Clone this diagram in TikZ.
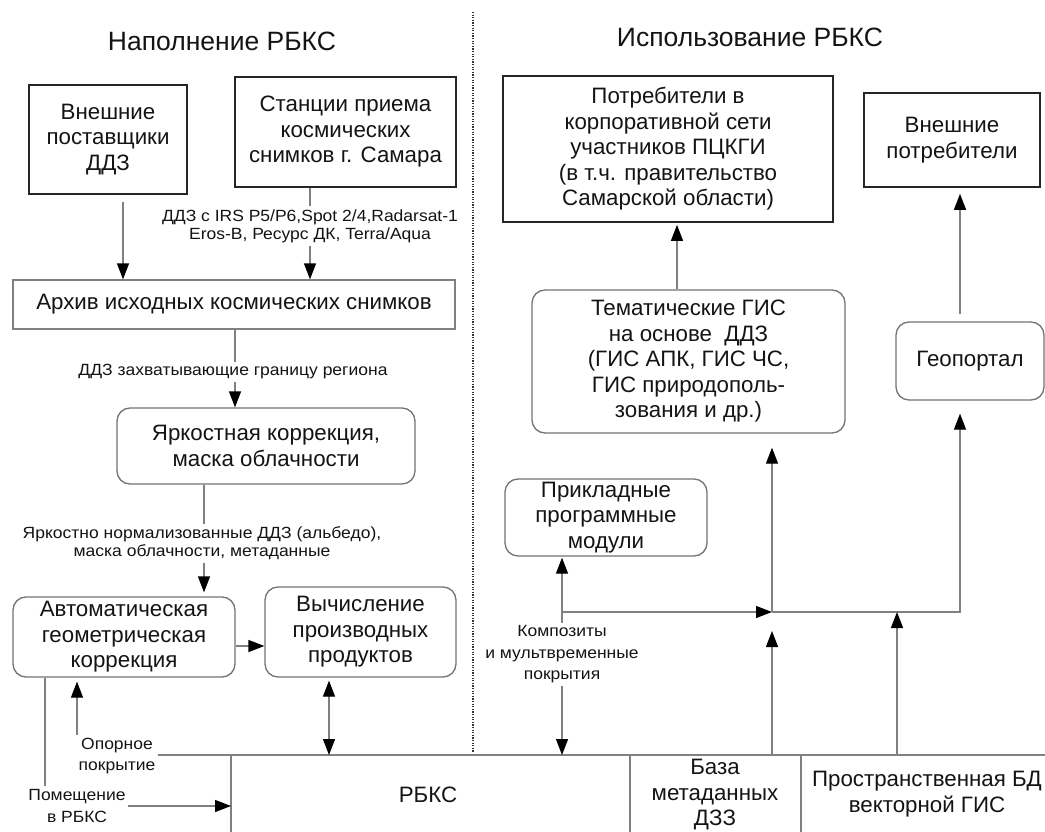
\documentclass[tikz,border=0pt]{standalone}
\usepackage{fontspec}
\setmainfont{Liberation Sans}
\newfontfamily\LblFam[FakeStretch=1.08]{Liberation Sans}
\usetikzlibrary{arrows.meta}
\newcommand\TitleFont{\fontsize{26.5}{30}\selectfont}
\newcommand\BoxFont{\fontsize{22.3}{25.5}\selectfont}
\newcommand\LblFont{\LblFam\fontsize{16.2}{18}\selectfont}
\newcommand\LblFontW{\LblFam\fontsize{16.2}{21.5}\selectfont}
\tikzset{
  sbox/.style={draw=black!85, line width=1.7pt, align=center, inner sep=0pt, font=\BoxFont, text=black!92},
  rbox/.style={draw=black!55, line width=1.3pt, rounded corners=13pt, align=center, inner sep=0pt, font=\BoxFont, text=black!92},
  conn/.style={draw=black!50, line width=1.3pt},
  arr/.style={conn, -{Triangle[length=16pt,width=12pt,color=black]}},
  darr/.style={conn, {Triangle[length=16pt,width=12pt,color=black]}-{Triangle[length=16pt,width=12pt,color=black]}},
  lbl/.style={font=\LblFont, align=center, inner xsep=2pt, inner ysep=3pt, fill=white, text=black!92},
  lblw/.style={font=\LblFontW, align=center, inner xsep=2pt, inner ysep=3pt, fill=white, text=black!92},
  sepline/.style={draw=black!80, line width=1.3pt, dash pattern=on 1.3pt off 1.3pt},
  plain/.style={font=\BoxFont, align=center, inner sep=0pt, text=black!92}
}
\begin{document}
\begin{tikzpicture}[x=1pt,y=-1pt]
\useasboundingbox (0,0) rectangle (1045,832);
\fill[white] (0,0) rectangle (1045,832);

% titles
\node[font=\TitleFont, text=black!92] (t1) at (222,41) {Наполнение РБКС};
\node[font=\TitleFont, text=black!92] (t2) at (750,37) {Использование РБКС};

% separator
\draw[sepline] (473,12) -- (473,752);

% left column boxes
\node[sbox, minimum width=158pt, minimum height=109pt] (ext) at (108,139.5) {Внешние\\поставщики\\ДДЗ};
\node[sbox, minimum width=221pt, minimum height=110pt] (st) at (345.5,132) {Станции приема\\космических\\снимков г. Самара};
\node[draw=black!50, line width=1.3pt, minimum width=442pt, minimum height=49pt, inner sep=0pt, font=\BoxFont, text=black!92] (arch) at (234,304.5) {Архив исходных космических снимков};
\node[rbox, minimum width=298pt, minimum height=76pt] (yark) at (266,446) {Яркостная коррекция,\\маска облачности};
\node[rbox, minimum width=222pt, minimum height=80pt] (avt) at (124,637) {Автоматическая\\геометрическая\\коррекция};
\node[rbox, minimum width=191pt, minimum height=90pt] (vych) at (360.5,632) {Вычисление\\производных\\продуктов};

% right column boxes
\node[sbox, minimum width=330pt, minimum height=146pt] (potr) at (668,149) {Потребители в\\корпоративной сети\\участников ПЦКГИ\\(в т.ч. правительство\\Самарской области)};
\node[sbox, minimum width=176pt, minimum height=94pt] (vpotr) at (952,140) {Внешние\\потребители};
\node[rbox, minimum width=313pt, minimum height=143pt] (tem) at (688.5,361.5) {Тематические ГИС\\на основе~ ДДЗ\\(ГИС АПК, ГИС ЧС,\\ГИС природополь-\\зования и др.)};
\node[rbox, minimum width=148pt, minimum height=78pt] (geo) at (970,361) {Геопортал};
\node[rbox, minimum width=202pt, minimum height=77pt] (prik) at (606,517.5) {Прикладные\\программные\\модули};

% bottom storage
\coordinate (rtop) at (231,755);
\coordinate (J) at (772,612);
\coordinate (p1) at (897,755);
\node[plain] (rbks) at (428,795) {РБКС};
\node[plain] (baza) at (715,795) {База\\метаданных\\ДЗЗ};
\node[plain] (pbd) at (927,794) {Пространственная БД\\векторной ГИС};

% label positions
\coordinate (lst) at (310,226);
\coordinate (larch) at (233,372);
\coordinate (lyark) at (202,543.5);
\node[lblw, fill=none] (opor) at (117,756) {Опорное\\покрытие};
\node[lblw, fill=none] (pom) at (77,806) {Помещение\\в РБКС};
\node[lblw] (komp) at (562,654.5) {Композиты\\и мультвременные\\покрытия};

% storage lines
\draw[conn] (opor.east |- rtop) -- (rtop) -- (1045,755);
\draw[conn] (rtop) -- (231,832);
\draw[conn] (630,755) -- (630,832);
\draw[conn] (801,755) -- (801,832);

% left connectors
\draw[arr, shorten <=7pt] ([xshift=15pt]ext.south) -- ([xshift=15pt]ext.south |- arch.north);
\draw[arr] ([xshift=-35.5pt]st.south) -- ([xshift=-35.5pt]st.south |- arch.north);
\node[lbl] (lstn) at (lst) {ДДЗ с IRS P5/P6,Spot 2/4,Radarsat-1\\Eros-B, Ресурс ДК, Terra/Aqua};
\draw[arr] ([xshift=1pt]arch.south) -- ([xshift=1pt]arch.south |- yark.north);
\node[lbl] (larchn) at (larch) {ДДЗ захватывающие границу региона};
\draw[arr, shorten >=4pt] ([xshift=-62pt]yark.south) -- ([xshift=-62pt]yark.south |- avt.north);
\node[lbl] (lyarkn) at (lyark) {Яркостно нормализованные ДДЗ (альбедо),\\маска облачности, метаданные};
\draw[arr] ([yshift=-9pt]avt.east) -- ([yshift=-9pt]avt.east -| vych.west);
\draw[darr, shorten <=3pt] ([xshift=-31.5pt]vych.south) -- ([xshift=-31.5pt]vych.south |- rtop);
\draw[arr, shorten >=4pt] ([xshift=-47pt]avt.south |- opor.north) -- ([xshift=-47pt]avt.south);
\draw[conn] ([xshift=-79pt]avt.south) -- ([xshift=-79pt]avt.south |- pom.north);
\draw[arr] (pom.east) -- (pom.east -| rtop);

% right connectors
\draw[arr, shorten >=1pt] (komp.north) -- (komp.north |- prik.south);
\draw[arr] (komp.south) -- (komp.south |- rtop);
\draw[arr] (komp.north |- J) -- (J);
\draw[arr, shorten >=14pt] (J) -- (J |- tem.south);
\draw[arr, shorten >=19pt] (J |- rtop) -- (J);
\draw[arr, shorten >=13pt] (J) -| ([xshift=-10pt]geo.south);
\draw[arr] (p1) -- (p1 |- J);
\draw[arr, shorten >=2pt] ([xshift=-11.5pt]tem.north) -- ([xshift=-11.5pt]tem.north |- potr.south);
\draw[arr, shorten <=7pt, shorten >=6pt] ([xshift=-10pt]geo.north) -- ([xshift=-10pt]geo.north |- vpotr.south);
\end{tikzpicture}
\end{document}
